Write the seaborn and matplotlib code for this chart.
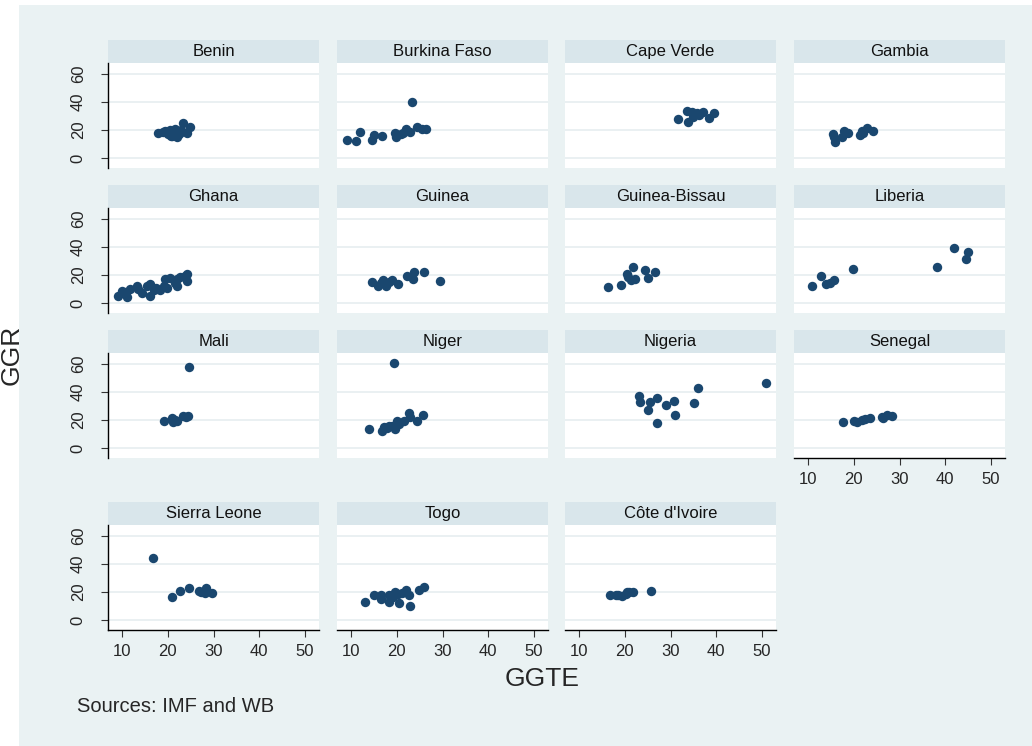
# ============================================
# GGR vs GGTE by country - faceted scatter
# ============================================

import pandas as pd
import numpy as np
import matplotlib.pyplot as plt
import seaborn as sns
from matplotlib.patches import Rectangle


# ============================================
# Data
# ============================================

countries = [
    "Benin", "Burkina Faso", "Cape Verde", "Gambia",
    "Ghana", "Guinea", "Guinea-Bissau", "Liberia",
    "Mali", "Niger", "Nigeria", "Senegal",
    "Sierra Leone", "Togo", "Côte d'Ivoire",
]

benin_ggte = [17.9, 19.0, 19.5, 20.0, 20.5, 20.8, 21.0, 21.3, 21.5, 21.8,
              22.0, 22.0, 22.5, 22.8, 23.0, 23.3, 24.3, 24.9]
benin_ggr = [18.0, 18.5, 19.0, 17.0, 20.0, 15.5, 16.0, 18.0, 21.0, 16.5,
             15.0, 19.0, 17.0, 18.5, 20.0, 24.7, 18.0, 22.3]

burkina_ggte = [9.2, 11.1, 12.0, 14.5, 15.1, 16.8, 19.6, 19.8, 21.0, 21.4,
                22.1, 22.9, 23.4, 24.4, 25.5, 26.5]
burkina_ggr = [12.9, 12.0, 18.8, 12.9, 16.4, 16.0, 18.0, 15.3, 17.0, 17.5,
               20.4, 18.5, 39.5, 22.3, 20.4, 20.4]

capeverde_ggte = [31.7, 33.5, 33.9, 34.6, 35.0, 35.7, 36.3, 37.2, 38.5, 39.5]
capeverde_ggr = [27.5, 33.4, 25.8, 32.7, 29.4, 31.7, 30.5, 32.7, 28.2, 31.7]

gambia_ggte = [15.5, 15.7, 15.9, 17.4, 17.8, 18.8, 21.4, 21.8, 22.0, 22.9, 24.3]
gambia_ggr = [16.9, 15.3, 11.7, 15.3, 19.5, 18.0, 16.4, 19.5, 18.0, 21.2, 19.5]

ghana_ggte = [9.1, 10.1, 10.9, 11.2, 11.7, 13.2, 13.5, 14.3, 15.5, 16.1,
              16.1, 16.9, 17.5, 18.3, 19.1, 19.4, 19.9, 20.5, 21.5, 22.0,
              22.0, 22.7, 23.7, 24.1, 24.3]
ghana_ggr = [4.9, 8.3, 7.8, 4.0, 9.7, 12.5, 10.0, 7.3, 12.0, 13.7,
             5.4, 9.6, 11.0, 9.0, 12.5, 17.2, 10.4, 17.9, 14.0, 12.5,
             17.2, 18.4, 19.3, 20.7, 16.0]

guinea_ggte = [14.5, 16.0, 16.5, 17.1, 17.7, 18.2, 18.9, 20.2, 22.3, 23.5,
               23.8, 26.0, 29.5]
guinea_ggr = [14.8, 12.5, 14.0, 16.3, 12.5, 15.0, 16.3, 13.7, 19.6, 16.9,
              21.9, 22.4, 15.5]

gbissau_ggte = [16.4, 19.2, 20.4, 20.8, 21.3, 21.9, 22.2, 24.4, 25.1, 26.6]
gbissau_ggr = [11.3, 13.2, 20.7, 18.4, 16.5, 25.4, 17.2, 23.8, 18.0, 22.4]

liberia_ggte = [10.9, 12.8, 13.9, 14.7, 15.7, 19.8, 38.3, 41.9, 44.5, 44.9]
liberia_ggr = [12.0, 19.6, 13.7, 14.1, 16.7, 24.3, 25.4, 38.8, 31.3, 36.5]

mali_ggte = [19.2, 20.9, 21.2, 21.6, 22.0, 23.3, 24.0, 24.5, 24.7]
mali_ggr = [19.5, 21.4, 18.4, 20.0, 19.5, 23.1, 22.4, 22.8, 57.7]

niger_ggte = [13.9, 16.7, 17.2, 17.9, 18.2, 18.9, 19.5, 19.6, 20.0, 20.4,
              21.6, 22.7, 22.9, 24.4, 25.7]
niger_ggr = [13.7, 12.0, 14.8, 14.1, 15.5, 16.0, 60.7, 13.7, 19.1, 17.3,
             19.5, 24.7, 22.4, 19.1, 23.8]

nigeria_ggte = [23.2, 23.3, 25.1, 25.6, 27.1, 27.1, 29.0, 30.8, 31.0, 35.1,
                36.1, 50.9]
nigeria_ggr = [36.7, 33.0, 27.3, 32.5, 35.6, 17.9, 30.6, 33.7, 23.8, 32.0,
               42.4, 45.9]

senegal_ggte = [17.7, 20.1, 20.8, 21.8, 22.5, 23.6, 26.1, 26.5, 27.2, 28.3]
senegal_ggr = [18.8, 19.5, 18.4, 20.0, 20.7, 21.2, 21.9, 21.4, 23.5, 23.1]

sleone_ggte = [16.8, 21.0, 22.7, 24.7, 26.8, 27.3, 28.1, 28.3, 29.6]
sleone_ggr = [44.0, 16.5, 20.5, 22.8, 20.5, 20.0, 19.5, 23.0, 19.3]

togo_ggte = [13.1, 15.1, 16.5, 16.5, 18.2, 18.4, 19.2, 19.7, 20.2, 20.4,
             21.1, 22.1, 22.6, 22.9, 24.8, 26.0]
togo_ggr = [12.9, 18.1, 15.3, 18.1, 17.6, 12.9, 16.5, 20.0, 18.8, 12.5,
            19.3, 21.2, 17.6, 9.9, 21.2, 23.5]

civ_ggte = [16.8, 18.0, 18.5, 19.5, 20.2, 20.5, 21.0, 21.9, 25.8]
civ_ggr = [18.1, 18.1, 17.6, 17.2, 18.8, 20.0, 20.0, 20.0, 20.7]

x_ticks = [10, 20, 30, 40, 50]
y_ticks = [0, 20, 40, 60]


# ============================================
# Build long table
# ============================================

series = [
    (benin_ggte, benin_ggr), (burkina_ggte, burkina_ggr),
    (capeverde_ggte, capeverde_ggr), (gambia_ggte, gambia_ggr),
    (ghana_ggte, ghana_ggr), (guinea_ggte, guinea_ggr),
    (gbissau_ggte, gbissau_ggr), (liberia_ggte, liberia_ggr),
    (mali_ggte, mali_ggr), (niger_ggte, niger_ggr),
    (nigeria_ggte, nigeria_ggr), (senegal_ggte, senegal_ggr),
    (sleone_ggte, sleone_ggr), (togo_ggte, togo_ggr),
    (civ_ggte, civ_ggr),
]

frames = []
for name, (xs, ys) in zip(countries, series):
    frames.append(pd.DataFrame({"country": name, "GGTE": xs, "GGR": ys}))
df = pd.concat(frames, ignore_index=True)


# ============================================
# Style
# ============================================

NAVY = "#1a476f"
OUTER_BG = "#eaf2f3"
HEADER_BG = "#d9e6eb"
GRID = "#e6eef0"

sns.set_style("white")
plt.rcParams["font.family"] = ["Liberation Sans", "DejaVu Sans"]

W, H = 1032, 746


def fx(px):
    return px / W


def fy(py):
    return 1 - py / H


# ============================================
# Plot
# ============================================

g = sns.FacetGrid(
    df,
    col="country",
    col_order=countries,
    col_wrap=4,
    sharex=True,
    sharey=True,
    despine=False,
)
g.map_dataframe(
    sns.scatterplot,
    x="GGTE",
    y="GGR",
    color=NAVY,
    s=46,
    linewidth=0,
)

fig = g.figure
fig.set_size_inches(W / 100, H / 100)
fig.set_dpi(100)
fig.patch.set_facecolor("white")

# outer graph region
fig.patches.append(Rectangle(
    (fx(19), 0), 1 - fx(19), fy(5),
    transform=fig.transFigure, facecolor=OUTER_BG,
    edgecolor="none", zorder=-10,
))

col_left = [108, 337, 565, 794]
row_top = [40, 185, 330, 502]
panel_w = 211
head_h = 23.3
plot_h = 104.4

axes = list(g.axes.flat)
axes[0].set_xlim(6.94, 53.06)
axes[0].set_ylim(-6.8, 67.3)
axes[0].set_xticks(x_ticks)
axes[0].set_yticks(y_ticks)

# first pass: positions, headers, spines
for i, ax in enumerate(axes):
    r, c = divmod(i, 4)
    left = col_left[c]
    top = row_top[r] + head_h
    ax.set_position([fx(left), fy(top + plot_h), panel_w / W, plot_h / H])

    ax.set_title("")
    ax.set_xlabel("")
    ax.set_ylabel("")
    ax.set_facecolor("white")
    ax.yaxis.grid(True, color=GRID, linewidth=1.2)
    ax.xaxis.grid(False)
    ax.set_axisbelow(True)

    for sp in ax.spines.values():
        sp.set_visible(False)

    fig.patches.append(Rectangle(
        (fx(left), fy(row_top[r] + head_h)), panel_w / W, head_h / H,
        transform=fig.transFigure, facecolor=HEADER_BG,
        edgecolor="none", zorder=-5,
    ))
    fig.text(
        fx(left + panel_w / 2), fy(row_top[r] + head_h / 2),
        countries[i], ha="center", va="center",
        fontsize=12, color="#111111",
    )

# second pass: ticks
for i, ax in enumerate(axes):
    c = i % 4
    is_left = c == 0
    is_bottom = i >= 11

    if is_left:
        ax.spines["left"].set_visible(True)
        ax.spines["left"].set_color("black")
        ax.spines["left"].set_linewidth(1.0)
        ax.tick_params(axis="y", which="major", left=True, labelleft=True,
                       length=5, width=0.8, pad=11, labelsize=12,
                       labelrotation=90, color="#333333")
        for lbl in ax.get_yticklabels():
            lbl.set_visible(True)
            lbl.set_verticalalignment("center")
            lbl.set_horizontalalignment("right")
    else:
        ax.tick_params(axis="y", left=False, labelleft=False)

    if is_bottom:
        ax.spines["bottom"].set_visible(True)
        ax.spines["bottom"].set_color("black")
        ax.spines["bottom"].set_linewidth(1.0)
        ax.tick_params(axis="x", which="major", bottom=True,
                       labelbottom=True, length=5, width=0.8, pad=5,
                       labelsize=12, color="#333333")
        for lbl in ax.get_xticklabels():
            lbl.set_visible(True)
    else:
        ax.tick_params(axis="x", bottom=False, labelbottom=False)

# axis titles and note
fig.text(fx(542), fy(679), "GGTE", ha="center", va="center", fontsize=19)
fig.text(fx(12), fy(355), "GGR", ha="center", va="center",
         rotation=90, fontsize=19)
fig.text(fx(77), fy(707), "Sources: IMF and WB", ha="left", va="center",
         fontsize=14.5)

plt.savefig("out.png", dpi=100)
